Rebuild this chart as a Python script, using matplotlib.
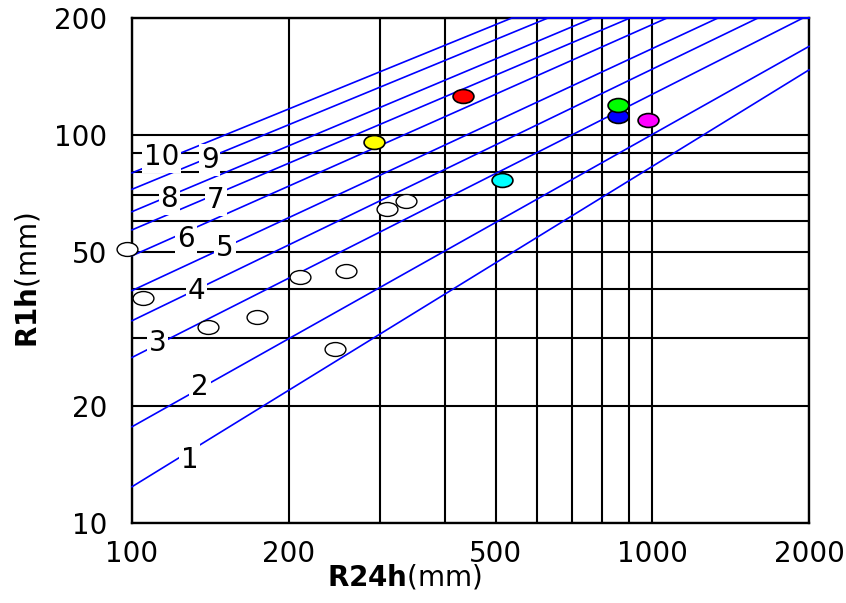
import matplotlib
matplotlib.use('Agg')
import matplotlib.pyplot as plt
import numpy as np
from matplotlib.path import Path
from matplotlib.transforms import Affine2D
from matplotlib.ticker import FixedLocator, NullFormatter

# rain lines 1..10: R1h at R24h=100, and where each line leaves the chart
line_names = ['1', '2', '3', '4', '5', '6', '7', '8', '9', '10']
line_y_start = [12.4, 17.7, 26.7, 33.2, 39.7, 48.8, 56.9, 63.4, 72.4, 79.8]
line_x_end = [2000, 2000, 1948, 1596, 1337, 1067, 906, 769, 630, 537]
line_y_end = [147, 169, 200, 200, 200, 200, 200, 200, 200, 200]

# where the number of each line is written
label_x = [129, 135, 112, 133, 151, 127, 145, 118, 141, 114]
label_y = [14.5, 22.4, 29.1, 39.6, 51.1, 53.8, 68.0, 68.3, 86.2, 87.9]

# past events (open circles)
past_r24 = [97.7, 105, 140, 174, 210, 258, 246, 309, 336]
past_r1 = [50.7, 37.9, 31.9, 34.0, 43.1, 44.7, 28.0, 64.4, 67.7]

# recent events (coloured)
event_r24 = [292, 432, 513, 860, 860, 979]
event_r1 = [95.8, 126.0, 76.6, 111.5, 119.5, 109.3]
event_colors = ['#ffff00', '#ff0000', '#00ffff', '#0000ff', '#00ff00', '#ff00ff']

x_ticks = [100, 200, 500, 1000, 2000]
y_ticks = [10, 20, 50, 100, 200]
x_grid = [200, 300, 400, 500, 600, 700, 800, 900, 1000]
y_grid = [20, 30, 40, 50, 60, 70, 80, 90, 100]

plt.rcParams['font.family'] = 'DejaVu Sans'

fig = plt.figure(figsize=(8.46, 6.03), dpi=100)
ax = fig.add_axes([132/846, 1 - 523/603, 677/846, 505/603])
ax.set_xscale('log')
ax.set_yscale('log')
ax.set_xlim(100, 2000)
ax.set_ylim(10, 200)

ax.xaxis.set_major_locator(FixedLocator(x_ticks))
ax.yaxis.set_major_locator(FixedLocator(y_ticks))
ax.set_xticklabels([str(v) for v in x_ticks])
ax.set_yticklabels([str(v) for v in y_ticks])
ax.xaxis.set_minor_locator(FixedLocator(x_grid))
ax.yaxis.set_minor_locator(FixedLocator(y_grid))
ax.xaxis.set_minor_formatter(NullFormatter())
ax.yaxis.set_minor_formatter(NullFormatter())
ax.tick_params(which='both', length=0, labelsize=20)
ax.tick_params(axis='x', pad=12)
ax.tick_params(axis='y', pad=18)

ax.set_axisbelow(True)
ax.grid(True, which='both', color='black', linewidth=1.5)
for s in ax.spines.values():
    s.set_linewidth(1.7)
    s.set_color('black')

for i in range(len(line_names)):
    xs = [100, line_x_end[i], 2000]
    ys = [line_y_start[i], line_y_end[i], line_y_end[i]]
    ax.plot(xs, ys, color='#0000ff', linewidth=1.2, zorder=3, clip_on=False)
    ax.text(label_x[i], label_y[i], line_names[i], fontsize=20, ha='center', va='center',
            zorder=4, bbox=dict(facecolor='white', edgecolor='none', pad=1.5))

# oval marker, wider than tall
oval = Path.unit_circle().transformed(Affine2D().scale(1.5, 1.0))

ax.plot(past_r24, past_r1, linestyle='none', marker=oval, markersize=15,
        markerfacecolor='white', markeredgecolor='black', markeredgewidth=1.0,
        zorder=5, clip_on=False)
for x, y, c in zip(event_r24, event_r1, event_colors):
    ax.plot([x], [y], linestyle='none', marker=oval, markersize=15,
            markerfacecolor=c, markeredgecolor='black', markeredgewidth=1.2, zorder=6)

ax.set_xlabel(r'$\mathbf{R24h}$(mm)', fontsize=20)
ax.set_ylabel(r'$\mathbf{R1h}$(mm)', fontsize=20)
ax.xaxis.set_label_coords(0.403, -0.078)
ax.yaxis.set_label_coords(-0.132, 0.48)

fig.savefig('out.png', dpi=100)
